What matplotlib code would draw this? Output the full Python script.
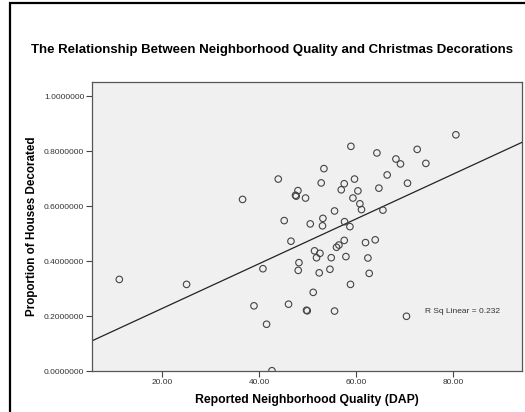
import matplotlib.pyplot as plt
import matplotlib.patches as patches
import numpy as np

plt.rcParams["font.family"] = ["Liberation Sans", "DejaVu Sans"]

# Reported Neighborhood Quality (DAP) and proportion of houses decorated
dap = [11.13, 25.01, 36.56, 38.91, 40.76, 41.51, 42.62, 43.92, 45.15, 46.04,
       46.54, 47.48, 47.63, 47.98, 48.19, 48.04, 49.55, 49.75, 49.90, 50.52,
       51.13, 51.40, 51.81, 52.52, 52.37, 52.78, 53.13, 53.05, 53.34, 54.58,
       54.85, 55.53, 55.53, 55.94, 56.43, 56.91, 57.53, 57.53, 57.59, 57.88,
       58.70, 58.82, 58.91, 59.32, 59.65, 60.35, 60.76, 61.09, 61.92, 62.41,
       62.68, 63.92, 64.27, 64.68, 65.51, 66.39, 68.19, 69.13, 70.37, 70.58,
       72.58, 74.37, 80.56]
prop = [0.333, 0.315, 0.624, 0.237, 0.372, 0.170, 0.001, 0.698, 0.547, 0.243,
        0.472, 0.639, 0.636, 0.656, 0.394, 0.366, 0.629, 0.221, 0.219, 0.535,
        0.286, 0.437, 0.412, 0.428, 0.357, 0.684, 0.555, 0.528, 0.736, 0.370,
        0.412, 0.582, 0.218, 0.450, 0.458, 0.659, 0.681, 0.475, 0.543, 0.416,
        0.525, 0.315, 0.817, 0.629, 0.698, 0.655, 0.608, 0.587, 0.467, 0.411,
        0.355, 0.477, 0.793, 0.665, 0.585, 0.713, 0.771, 0.753, 0.199, 0.683,
        0.806, 0.755, 0.859]

x_ticks = [20, 40, 60, 80]
y_ticks = [0.0, 0.2, 0.4, 0.6, 0.8, 1.0]
r_sq_text = "R Sq Linear = 0.232"

fig = plt.figure(figsize=(5.25, 4.12), dpi=100)
fig.patch.set_facecolor("white")

# outer chart frame (cropped at right/bottom)
fig.patches.append(patches.Rectangle((10 / 525, -0.1), 1.2, 1 - 3 / 412 + 0.1,
                                     transform=fig.transFigure, fill=False,
                                     edgecolor="black", linewidth=1.6))

ax = fig.add_axes([92 / 525, 1 - 371 / 412, 430 / 525, 289 / 412])
ax.set_facecolor("#f0f0f0")

ax.scatter(dap, prop, s=22, facecolors="none", edgecolors="#444444", linewidths=0.8, zorder=3)

slope, intercept = np.polyfit(dap, prop, 1)
xl = np.array([5.5, 94.2])
ax.plot(xl, intercept + slope * xl, color="#222222", linewidth=0.9, zorder=2)

ax.set_xlim(5.5, 94.2)
ax.set_ylim(0, 1.051)
ax.set_xticks(x_ticks)
ax.set_xticklabels([f"{v:.2f}" for v in x_ticks])
ax.set_yticks(y_ticks)
ax.set_yticklabels([f"{v:.7f}" for v in y_ticks])
ax.tick_params(labelsize=6, length=4, width=0.8, color="#444444", labelcolor="#333333", pad=1.5)
for sp in ax.spines.values():
    sp.set_color("#555555")
    sp.set_linewidth(0.9)

ax.set_xlabel("Reported Neighborhood Quality (DAP)", fontsize=8.8, fontweight="bold", labelpad=6)
ax.set_ylabel("Proportion of Houses Decorated", fontsize=8.4, fontweight="bold", labelpad=4)

ax.text(74.2, 0.218, r_sq_text, fontsize=6, va="center", ha="left", color="#333333")

fig.text(272 / 525, 1 - 50 / 412,
         "The Relationship Between Neighborhood Quality and Christmas Decorations",
         ha="center", va="center", fontsize=9.5, fontweight="bold")

fig.savefig("out.png", dpi=100)
